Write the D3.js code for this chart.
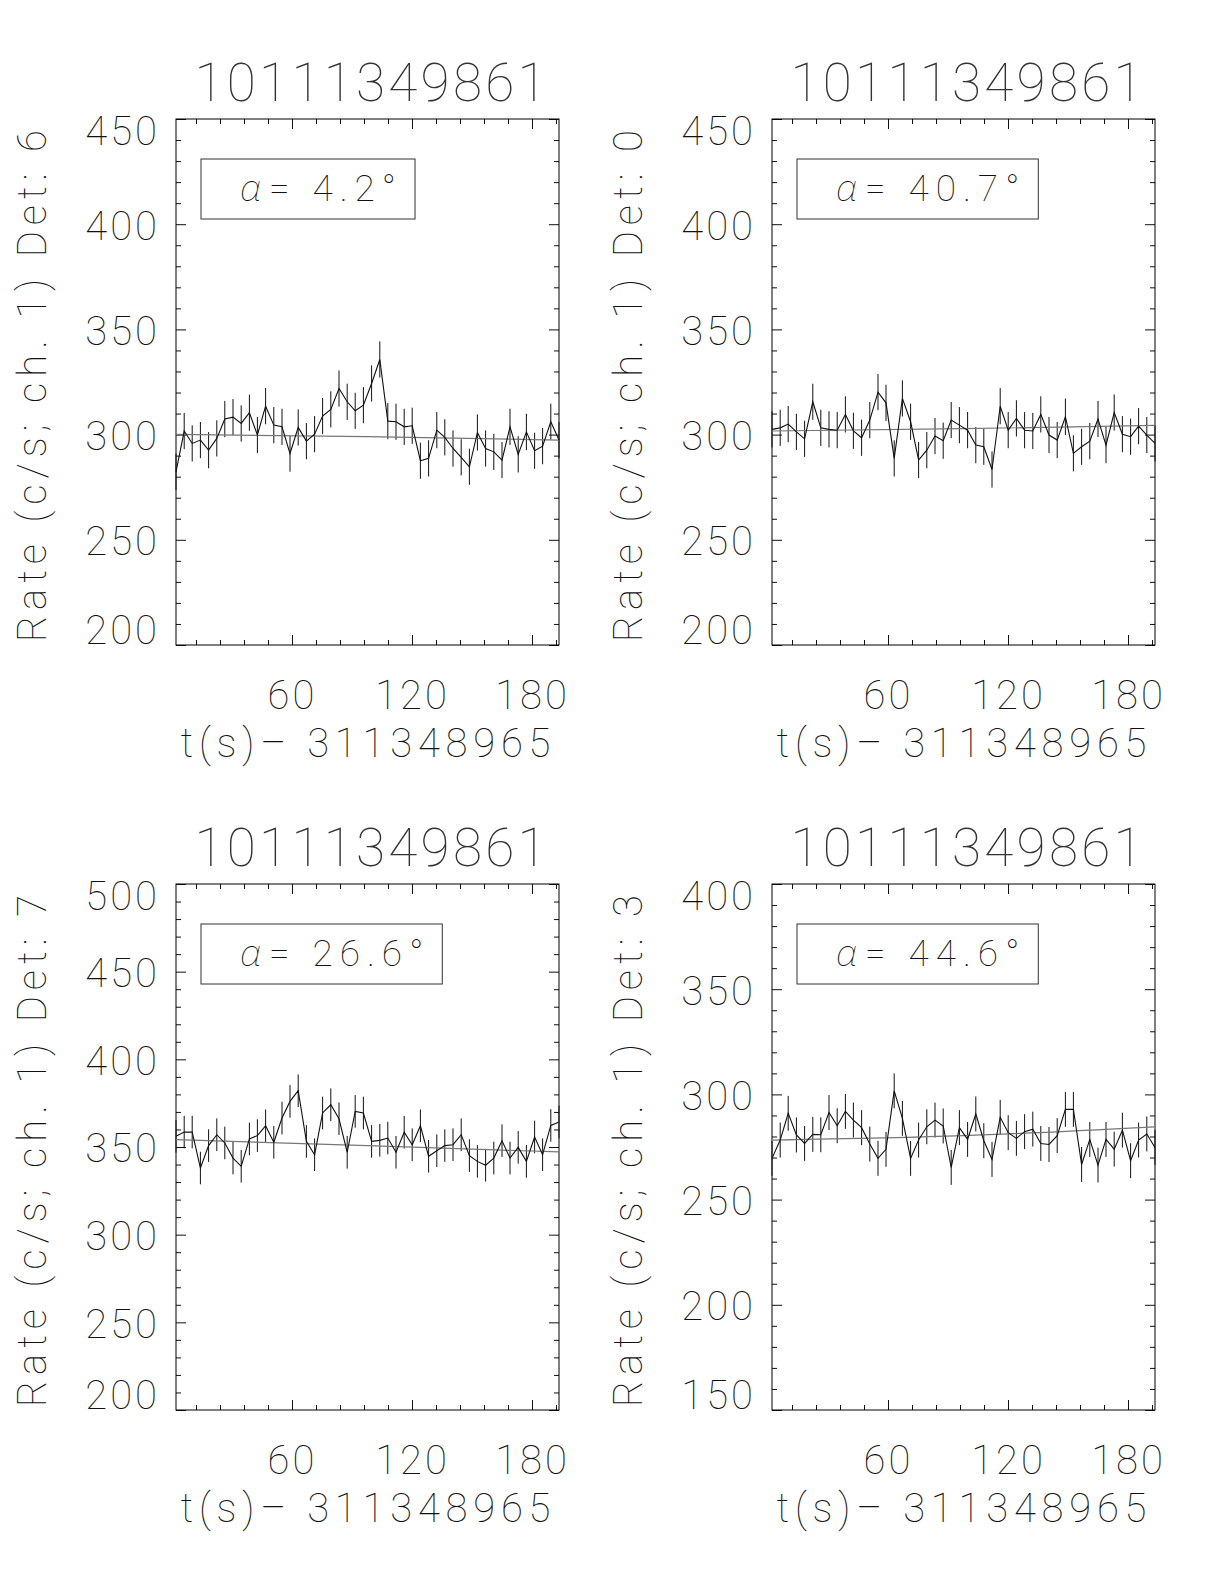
<!DOCTYPE html>
<html>
<head>
<meta charset="utf-8">
<script src="https://cdn.jsdelivr.net/npm/d3@7"></script>
<style>
  body { margin: 0; background: #fff; }
  svg { display: block; }
</style>
</head>
<body>
<div id="chart"></div>
<script>
// time bins (s after 311348965)
const times = [2.0, 6.1, 10.1, 14.2, 18.3, 22.4, 26.4, 30.5, 34.6, 38.7, 42.7, 46.8,
    50.9, 55.0, 59.0, 63.1, 67.2, 71.3, 75.3, 79.4, 83.5, 87.6, 91.6, 95.7,
    99.8, 103.9, 107.9, 112.0, 116.1, 120.1, 124.2, 128.3, 132.4, 136.4, 140.5, 144.6,
    148.7, 152.7, 156.8, 160.9, 165.0, 169.0, 173.1, 177.2, 181.3, 185.3, 189.4, 193.5];

const rateDet6 = [282.3, 301.7, 295.8, 297.4, 292.6, 298.2, 307.4, 308.3, 305.3, 310.4, 299.8, 313.5,
    304.5, 303.7, 291.0, 303.4, 296.9, 300.2, 308.8, 312.0, 321.9, 315.6, 311.3, 314.0,
    324.3, 335.7, 306.4, 306.1, 303.7, 304.2, 287.6, 288.7, 302.1, 298.7, 293.4, 289.2,
    284.7, 301.0, 293.4, 291.8, 287.9, 303.7, 290.6, 301.3, 292.3, 294.5, 306.1, 297.4];

const rateDet0 = [302.5, 303.2, 305.0, 301.3, 298.0, 315.6, 303.2, 302.5, 302.1, 309.6, 301.8, 298.5,
    306.9, 320.2, 315.1, 288.7, 317.2, 306.1, 287.9, 292.6, 299.3, 297.1, 306.9, 304.5,
    302.1, 295.0, 294.2, 283.4, 313.5, 302.1, 307.7, 302.1, 301.7, 309.6, 299.8, 297.4,
    308.5, 291.1, 294.2, 296.9, 307.4, 295.0, 310.5, 300.2, 299.0, 304.0, 299.8, 295.8];

const rateDet7 = [356.1, 358.5, 358.5, 338.0, 350.8, 357.0, 352.3, 343.7, 339.0, 354.6, 356.5, 362.1,
    352.7, 366.5, 376.0, 382.1, 353.2, 345.6, 369.4, 374.1, 366.1, 347.0, 370.3, 369.4,
    353.2, 353.8, 355.1, 347.0, 358.4, 351.3, 362.1, 344.7, 347.9, 350.8, 351.3, 357.0,
    345.1, 341.8, 339.6, 343.7, 353.6, 343.7, 349.8, 341.8, 355.7, 345.6, 362.3, 364.2];

const rateDet3 = [269.6, 278.3, 291.0, 280.7, 276.7, 281.0, 280.8, 291.4, 285.1, 291.9, 287.8, 284.2,
    276.4, 269.6, 273.9, 301.7, 288.6, 269.6, 278.3, 284.6, 287.8, 285.0, 265.3, 284.2,
    278.6, 290.7, 278.0, 269.1, 289.1, 281.8, 279.1, 282.3, 283.5, 276.7, 276.2, 280.4,
    292.9, 292.9, 266.7, 278.6, 266.4, 278.6, 274.0, 283.0, 268.5, 278.3, 281.2, 274.8];

// background model, sampled at start / middle / end
const modelTimes = [2.0, 97.7, 193.5];
const modelDet6 = [300.1, 299.0, 297.4];
const modelDet0 = [301.7, 302.8, 304.4];
const modelDet7 = [354.2, 350.8, 347.2];
const modelDet3 = [278.3, 280.4, 284.6];

// half length of the error bars (c/s)
const errDet6 = 8.6, errDet0 = 8.6, errDet7 = 9.3, errDet3 = 8.3;

const titles = ["10111349861", "10111349861", "10111349861", "10111349861"];
const detectors = ["6", "0", "7", "3"];
const alphas = ["4.2", "40.7", "26.6", "44.6"];
const yTicksDet6 = [200, 250, 300, 350, 400, 450];
const yTicksDet0 = [200, 250, 300, 350, 400, 450];
const yTicksDet7 = [200, 250, 300, 350, 400, 450, 500];
const yTicksDet3 = [150, 200, 250, 300, 350, 400];
const xTickLabels = [60, 120, 180];
const xMinorStep = 12, yMinorStep = 10;
const xTitle = "t(s)\u2013 311348965";

const
    W = 1224, H = 1584,
    plotW = 383, plotH = 526,
    font = "Roboto, Lato, sans-serif",
    ink = "#111";

const svg = d3.select("#chart").append("svg")
    .attr("width", W).attr("height", H)
    .style("font-family", font)
    .style("font-weight", 100);

const panels = [
    { left: 176, top: 119, rate: rateDet6, model: modelDet6, err: errDet6, yTicks: yTicksDet6 },
    { left: 772, top: 119, rate: rateDet0, model: modelDet0, err: errDet0, yTicks: yTicksDet0 },
    { left: 176, top: 884, rate: rateDet7, model: modelDet7, err: errDet7, yTicks: yTicksDet7 },
    { left: 772, top: 884, rate: rateDet3, model: modelDet3, err: errDet3, yTicks: yTicksDet3 }
];

panels.forEach((p, i) => drawPanel(p, i));

function styleAxis(g) {
    g.select(".domain").remove();
    g.attr("font-family", null).attr("font-size", null);
    g.selectAll(".tick line").attr("stroke", ink).attr("stroke-width", 1);
    g.selectAll(".tick text")
        .attr("fill", ink)
        .style("font-size", "40px")
        .style("letter-spacing", "3px");
}

function drawPanel(p, idx) {
    const x = d3.scaleLinear()
        .domain(d3.extent(times))
        .range([p.left, p.left + plotW]);
    const yDom = d3.extent(p.yTicks);
    const y = d3.scaleLinear()
        .domain(yDom)
        .range([p.top + plotH, p.top]);

    const g = svg.append("g").attr("class", "panel-" + idx);

    // ticks
    const xMinor = d3.range(0, x.domain()[1], xMinorStep).filter(t => t >= x.domain()[0] && xTickLabels.indexOf(t) < 0);
    const yMinor = d3.range(yDom[0], yDom[1], yMinorStep).filter(v => p.yTicks.indexOf(v) < 0);
    const bottom = p.top + plotH, right = p.left + plotW;

    g.append("g").attr("transform", `translate(0,${bottom})`)
        .call(d3.axisBottom(x).tickValues(xMinor).tickSize(-5).tickFormat(""))
        .call(styleAxis);
    g.append("g").attr("transform", `translate(0,${bottom})`)
        .call(d3.axisBottom(x).tickValues(xTickLabels).tickSize(-10).tickPadding(36).tickFormat(d3.format("d")))
        .call(styleAxis);
    g.append("g").attr("transform", `translate(0,${p.top})`)
        .call(d3.axisTop(x).tickValues(xMinor).tickSize(-5).tickFormat(""))
        .call(styleAxis);
    g.append("g").attr("transform", `translate(0,${p.top})`)
        .call(d3.axisTop(x).tickValues(xTickLabels).tickSize(-10).tickFormat(""))
        .call(styleAxis);

    g.append("g").attr("transform", `translate(${p.left},0)`)
        .call(d3.axisLeft(y).tickValues(yMinor).tickSize(-5).tickFormat(""))
        .call(styleAxis);
    const yl = g.append("g").attr("transform", `translate(${p.left},0)`)
        .call(d3.axisLeft(y).tickValues(p.yTicks).tickSize(-10).tickPadding(16).tickFormat(d3.format("d")))
        .call(styleAxis);
    // keep the end labels inside the axis span, as in the original
    yl.selectAll(".tick text")
        .attr("y", d => d === yDom[1] ? 13 : (d === yDom[0] ? -14 : 2));
    g.append("g").attr("transform", `translate(${right},0)`)
        .call(d3.axisRight(y).tickValues(yMinor).tickSize(-5).tickFormat(""))
        .call(styleAxis);
    g.append("g").attr("transform", `translate(${right},0)`)
        .call(d3.axisRight(y).tickValues(p.yTicks).tickSize(-10).tickFormat(""))
        .call(styleAxis);

    // frame
    g.append("rect")
        .attr("x", p.left).attr("y", p.top)
        .attr("width", plotW).attr("height", plotH)
        .attr("fill", "none")
        .attr("stroke", "#000")
        .attr("stroke-width", 1);

    // error bars
    g.selectAll(".err")
        .data(p.rate)
        .enter().append("line")
        .attr("class", "err")
        .attr("x1", (d, i) => x(times[i]))
        .attr("x2", (d, i) => x(times[i]))
        .attr("y1", d => y(d - p.err))
        .attr("y2", d => y(d + p.err))
        .attr("stroke", "#111")
        .attr("stroke-width", 1);

    // model
    const modelLine = d3.line()
        .x((d, i) => x(modelTimes[i]))
        .y(d => y(d))
        .curve(d3.curveMonotoneX);
    g.append("path")
        .datum(p.model)
        .attr("fill", "none")
        .attr("stroke", "#777")
        .attr("stroke-width", 1.2)
        .attr("d", modelLine);

    // light curve
    const rateLine = d3.line()
        .x((d, i) => x(times[i]))
        .y(d => y(d));
    g.append("path")
        .datum(p.rate)
        .attr("fill", "none")
        .attr("stroke", "#111")
        .attr("stroke-width", 1.1)
        .attr("d", rateLine);

    // title
    g.append("text")
        .attr("x", p.left + plotW / 2 + 3)
        .attr("y", p.top - 18)
        .attr("text-anchor", "middle")
        .attr("fill", "#333")
        .attr("textLength", 352)
        .attr("lengthAdjust", "spacing")
        .style("font-size", "53px")
        .text(titles[idx]);

    // x title
    g.append("text")
        .attr("x", p.left + plotW / 2 - 2)
        .attr("y", bottom + 112)
        .attr("text-anchor", "middle")
        .attr("fill", ink)
        .attr("textLength", 370)
        .attr("lengthAdjust", "spacing")
        .style("font-size", "40px")
        .text(xTitle);

    // y title
    g.append("text")
        .attr("transform", `translate(${p.left - 130},${p.top + plotH / 2 + 4}) rotate(-90)`)
        .attr("text-anchor", "middle")
        .attr("fill", ink)
        .attr("textLength", 512)
        .attr("lengthAdjust", "spacing")
        .style("font-size", "40px")
        .text("Rate (c/s; ch. 1) Det: " + detectors[idx]);

    // legend box
    const lg = g.append("g");
    const lt = lg.append("text")
        .attr("x", p.left + 64)
        .attr("y", p.top + 82)
        .attr("fill", ink)
        .style("font-size", "37px")
        .style("letter-spacing", "7px");
    lt.append("tspan")
        .style("font-family", "'Noto Sans', sans-serif")
        .style("font-style", "italic")
        .text("\u03b1");
    lt.append("tspan").text("= " + alphas[idx] + "\u00b0");
    const bb = lt.node().getBBox();
    lg.insert("rect", "text")
        .attr("x", p.left + 25)
        .attr("y", p.top + 40)
        .attr("width", bb.x + bb.width + 12 - (p.left + 25))
        .attr("height", 60)
        .attr("fill", "none")
        .attr("stroke", "#333")
        .attr("stroke-width", 1);
}
</script>
</body>
</html>
